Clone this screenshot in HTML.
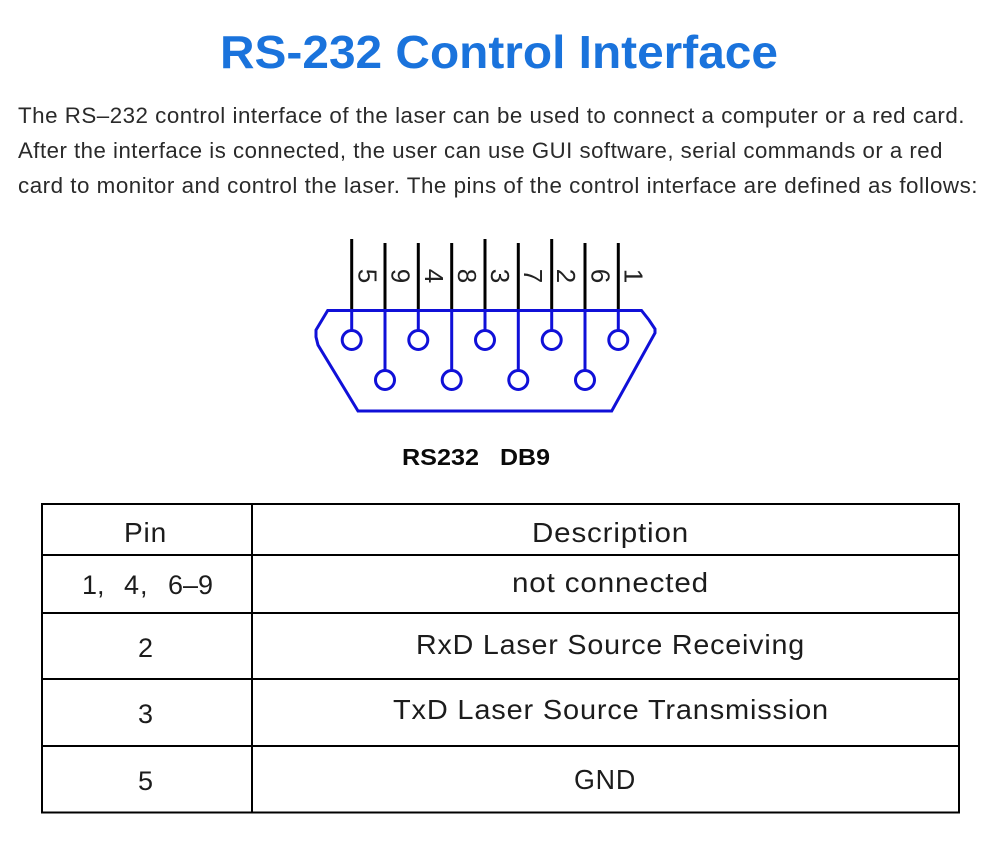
<!DOCTYPE html>
<html>
<head>
<meta charset="utf-8">
<title>RS-232 Control Interface</title>
<style>
html,body{margin:0;padding:0;background:#fff;}
svg{display:block;}
text{font-family:"Liberation Sans",Arial,sans-serif;}
.p{font-size:22px;fill:#2a2a2a;letter-spacing:.5px;}
.t{font-size:28px;fill:#1c1c1c;letter-spacing:.8px;}
.n{font-size:27px;fill:#1c1c1c;}
.d{font-size:26px;fill:#222;text-anchor:middle;}
</style>
</head>
<body>
<svg width="1000" height="868" viewBox="0 0 1000 868" xmlns="http://www.w3.org/2000/svg">
<rect width="1000" height="868" fill="#fff"/>
<text x="220" y="68" font-size="46" font-weight="bold" fill="#1a73dc" textLength="558" lengthAdjust="spacingAndGlyphs">RS-232 Control Interface</text>
<text class="p" x="18" y="123" textLength="947" lengthAdjust="spacingAndGlyphs">The RS–232 control interface of the laser can be used to connect a computer or a red card.</text>
<text class="p" x="18" y="158" textLength="925" lengthAdjust="spacingAndGlyphs">After the interface is connected, the user can use GUI software, serial commands or a red</text>
<text class="p" x="18" y="193" textLength="960" lengthAdjust="spacingAndGlyphs">card to monitor and control the laser. The pins of the control interface are defined as follows:</text>

<g stroke="#000" stroke-width="3" fill="none">
<line x1="351.7" y1="239" x2="351.7" y2="310"/>
<line x1="385" y1="243" x2="385" y2="310"/>
<line x1="418.3" y1="243" x2="418.3" y2="310"/>
<line x1="451.7" y1="243" x2="451.7" y2="310"/>
<line x1="485" y1="239" x2="485" y2="310"/>
<line x1="518.3" y1="243" x2="518.3" y2="310"/>
<line x1="551.7" y1="239" x2="551.7" y2="310"/>
<line x1="585" y1="243" x2="585" y2="310"/>
<line x1="618.3" y1="243" x2="618.3" y2="310"/>
</g>
<g stroke="#1010d8" stroke-width="3" fill="none">
<path d="M327.7 310.5H641.5L649 320 655 329V333L611.7 411H358L318 345 316 337V330Z"/>
<line x1="351.7" y1="310" x2="351.7" y2="331"/>
<line x1="418.3" y1="310" x2="418.3" y2="331"/>
<line x1="485" y1="310" x2="485" y2="331"/>
<line x1="551.7" y1="310" x2="551.7" y2="331"/>
<line x1="618.3" y1="310" x2="618.3" y2="331"/>
<line x1="385" y1="310" x2="385" y2="370"/>
<line x1="451.7" y1="310" x2="451.7" y2="370"/>
<line x1="518.3" y1="310" x2="518.3" y2="370"/>
<line x1="585" y1="310" x2="585" y2="370"/>
<circle cx="351.7" cy="340" r="9.5"/>
<circle cx="418.3" cy="340" r="9.5"/>
<circle cx="485" cy="340" r="9.5"/>
<circle cx="551.7" cy="340" r="9.5"/>
<circle cx="618.3" cy="340" r="9.5"/>
<circle cx="385" cy="380" r="9.5"/>
<circle cx="451.7" cy="380" r="9.5"/>
<circle cx="518.3" cy="380" r="9.5"/>
<circle cx="585" cy="380" r="9.5"/>
</g>
<text class="d" transform="translate(358.5,276) rotate(90)">5</text>
<text class="d" transform="translate(391.7,276) rotate(90)">9</text>
<text class="d" transform="translate(425,276) rotate(90)">4</text>
<text class="d" transform="translate(458,276) rotate(90)">8</text>
<text class="d" transform="translate(491,276) rotate(90)">3</text>
<text class="d" transform="translate(524,276) rotate(90)">7</text>
<text class="d" transform="translate(557,276) rotate(90)">2</text>
<text class="d" transform="translate(591.5,276) rotate(90)">6</text>
<text class="d" transform="translate(624.5,276) rotate(90)">1</text>

<text x="402" y="465" font-size="23" font-weight="bold" fill="#0a0a0a" textLength="77" lengthAdjust="spacingAndGlyphs">RS232</text>
<text x="500" y="465" font-size="23" font-weight="bold" fill="#0a0a0a" textLength="50" lengthAdjust="spacingAndGlyphs">DB9</text>

<g stroke="#000" stroke-width="2" fill="none">
<rect x="42" y="504" width="917" height="308.5"/>
<line x1="252" y1="504" x2="252" y2="812"/>
<line x1="42" y1="555" x2="959" y2="555"/>
<line x1="42" y1="613" x2="959" y2="613"/>
<line x1="42" y1="679" x2="959" y2="679"/>
<line x1="42" y1="746" x2="959" y2="746"/>
</g>
<text class="t" x="124" y="542" textLength="43" lengthAdjust="spacingAndGlyphs">Pin</text>
<text class="t" x="532" y="542" textLength="157" lengthAdjust="spacingAndGlyphs">Description</text>
<text class="n" y="594"><tspan x="82">1</tspan><tspan x="97">,</tspan><tspan x="124">4</tspan><tspan x="140">,</tspan><tspan x="168" textLength="45" lengthAdjust="spacingAndGlyphs">6–9</tspan></text>
<text class="t" x="512" y="592" textLength="197" lengthAdjust="spacingAndGlyphs">not connected</text>
<text class="n" x="138" y="657">2</text>
<text class="t" x="416" y="654" textLength="389" lengthAdjust="spacingAndGlyphs">RxD Laser Source Receiving</text>
<text class="n" x="138" y="723">3</text>
<text class="t" x="393" y="719" textLength="436" lengthAdjust="spacingAndGlyphs">TxD Laser Source Transmission</text>
<text class="n" x="138" y="790">5</text>
<text class="t" x="574" y="789" textLength="62" lengthAdjust="spacingAndGlyphs">GND</text>
</svg>
</body>
</html>
